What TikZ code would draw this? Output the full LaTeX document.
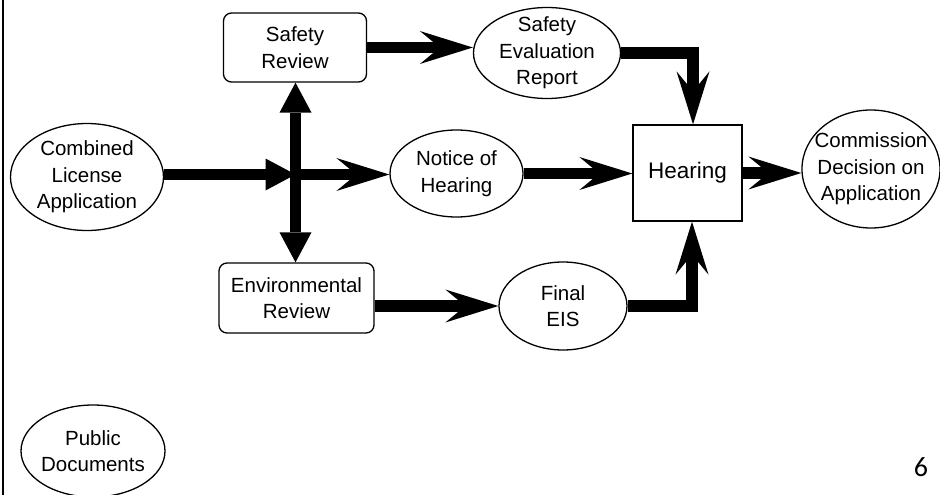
\documentclass[tikz,border=0pt]{standalone}
\usepackage{fontspec}
\setmainfont{Liberation Sans}
\newfontfamily\pagenumfont{Carlito}
\usetikzlibrary{arrows.meta,shapes.geometric}

\begin{document}
\begin{tikzpicture}[x=1pt, y=-1pt,
    barb/.tip={Stealth[length=53pt, width=33pt, inset=20pt, line width=0pt]},
    tri/.tip={Triangle[length=30pt, width=32pt, line width=0pt]},
    flow/.style={line width=11.5pt},
    oval/.style={ellipse, draw, line width=1.3pt, inner sep=0pt},
    rbox/.style={rectangle, draw, rounded corners=8pt, line width=1.3pt, inner sep=0pt, align=center, font=\fontsize{20.5}{26.5}\selectfont},
    txt/.style={align=center, font=\fontsize{20.5}{26.5}\selectfont}]
        %\draw [help lines] (0,0) grid [step=20] (940,495);
        \useasboundingbox (0,0) rectangle (940,495);
        \draw [line width=2.5pt] (3,0) -- (3,495) ;

        % boxes and ovals
        \node [oval, minimum width=153pt, minimum height=107pt, label={[txt]center:Combined\\License\\Application}] (cla) at (87,177) {} ;
        \node [rbox, minimum width=143pt, minimum height=69pt] (safety) at (295,47.5) {Safety\\Review} ;
        \node [oval, minimum width=147pt, minimum height=91pt, label={[txt]center:Safety\\Evaluation\\Report}] (ser) at (547,53) {} ;
        \node [oval, minimum width=133pt, minimum height=87pt, label={[txt]center:Notice of\\Hearing}] (noh) at (456.5,173.5) {} ;
        \node [rectangle, draw, line width=1.3pt, minimum width=109pt, minimum height=96pt, font=\fontsize{22.5}{27}\selectfont] (hearing) at (687.5,173) {Hearing} ;
        \node [oval, minimum width=138pt, minimum height=118pt, label={[txt]center:Commission\\Decision on\\Application}] (cda) at (871,169) {} ;
        \node [rbox, minimum width=155pt, minimum height=70pt] (env) at (296.5,298) {Environmental\\Review} ;
        \node [oval, minimum width=128pt, minimum height=88pt, label={[txt]center:Final\\EIS}] (eis) at (563,306) {} ;
        \node [oval, minimum width=144pt, minimum height=92pt, label={[txt]center:Public\\Documents}] (pub) at (93,451) {} ;
        \node [font=\pagenumfont\fontsize{28}{28}\selectfont] (pagenum) at (921,467) {6} ;

        % arrows
        \coordinate (cross) at (295.5,174.5) ;
        \draw [flow, -tri] (cla.east |- cross) -- (cross) ;
        \draw [flow, -barb] (cross) -- (cross -| noh.west) ;
        \draw [flow, tri-tri] (safety.south -| cross) -- (env.north -| cross) ;
        \draw [flow, -barb] (safety.east) -- (safety.east -| ser.west) ;
        \draw [flow, -barb] (ser.east) -| ([xshift=5.5pt]hearing.north) ;
        \draw [flow, -barb] (noh.east) -- (noh.east -| hearing.west) ;
        \draw [flow, -barb] (hearing.east) -- (hearing.east -| cda.west) ;
        \draw [flow, -barb] (env.east |- eis.west) -- (eis.west) ;
        \draw [flow, -barb] (eis.east) -| ([xshift=4.5pt]hearing.south) ;
    \end{tikzpicture}
\end{document}
